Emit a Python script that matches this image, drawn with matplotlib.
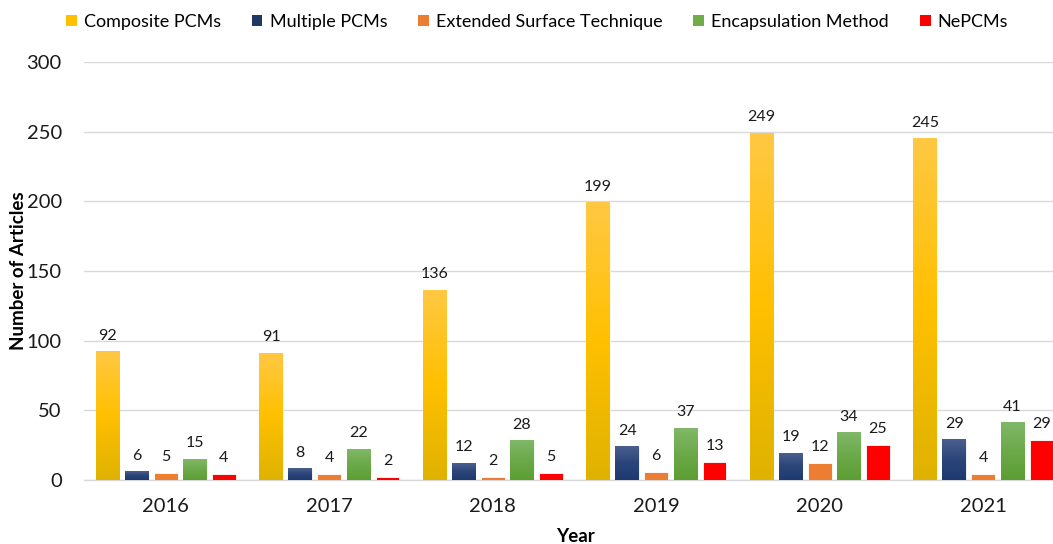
import numpy as np
import matplotlib.pyplot as plt
from matplotlib.colors import LinearSegmentedColormap
from matplotlib.patches import Patch

# Data
years = ['2016', '2017', '2018', '2019', '2020', '2021']
series_names = ['Composite PCMs', 'Multiple PCMs', 'Extended Surface Technique',
                'Encapsulation Method', 'NePCMs']
composite = [92, 91, 136, 199, 249, 245]
multiple = [6, 8, 12, 24, 19, 29]
extended = [5, 4, 2, 6, 12, 4]
encapsulation = [15, 22, 28, 37, 34, 41]
nepcms = [4, 2, 5, 13, 25, 29]
all_series = [composite, multiple, extended, encapsulation, nepcms]

# colours: (top, middle, bottom) for gradient bars, None for flat
legend_colors = ['#FFC000', '#203864', '#ED7D31', '#70AD47', '#FF0000']
gradients = [
    ['#FFC843', '#FFC000', '#DFB200'],
    ['#4A5F8E', '#2B4579', '#1D3A70'],
    None,
    ['#80B868', '#6CA94A', '#5C9E33'],
    None,
]

plt.rcParams['font.family'] = ['Lato', 'DejaVu Sans']

fig = plt.figure(figsize=(10.53, 5.44), dpi=100)
W, H = 1053, 544
left, right, bottom, top = 84, 1065, 480, 62
ax = fig.add_axes([left / W, 1 - bottom / H, (right - left) / W, (bottom - top) / H])

x = np.arange(len(years))
bar_w = 0.144
step = 0.178

for i, (vals, col, grad) in enumerate(zip(all_series, legend_colors, gradients)):
    pos = x + (i - 2) * step
    bars = ax.bar(pos, vals, width=bar_w, color=col, edgecolor='white',
                  linewidth=0.6, zorder=3)
    if grad is not None:
        cmap = LinearSegmentedColormap.from_list('g%d' % i, grad[::-1])
        grad_img = np.linspace(0, 1, 256).reshape(-1, 1)
        for b in bars:
            bx, by = b.get_x(), b.get_y()
            bw, bh = b.get_width(), b.get_height()
            ax.imshow(grad_img, cmap=cmap, aspect='auto', origin='lower',
                      extent=(bx, bx + bw, by, by + bh), zorder=3.5)
    for p, v in zip(pos, vals):
        ax.text(p, v + 6.5, str(v), ha='center', va='bottom', fontsize=11.5,
                color='#1a1a1a', zorder=5)

ax.set_xlim(-0.5, len(years) - 0.5)
ax.set_ylim(0, 300)
ax.set_yticks(range(0, 301, 50))
ax.set_xticks(x)
ax.set_xticklabels(years)
ax.tick_params(axis='both', length=0, labelsize=14.5, colors='#1a1a1a')
ax.tick_params(axis='x', pad=13)
ax.tick_params(axis='y', pad=16)
ax.yaxis.grid(True, color='#D9D9D9', linewidth=1, zorder=0)
ax.set_axisbelow(True)
for s in ['top', 'right', 'left']:
    ax.spines[s].set_visible(False)
ax.spines['bottom'].set_color('#D9D9D9')
ax.spines['bottom'].set_linewidth(1)

fig.text(18 / W, 1 - 271 / H, 'Number of Articles', rotation=90, ha='center',
         va='center', fontsize=13.5, fontweight='bold')
fig.text(575 / W, 1 - 536 / H, 'Year', ha='center', va='center',
         fontsize=13.5, fontweight='bold')

handles = [Patch(facecolor=c, edgecolor='none') for c in legend_colors]
fig.legend(handles, series_names, loc='center', bbox_to_anchor=(537 / W, 1 - 22 / H),
           ncol=5, frameon=False, fontsize=13, handlelength=0.6, handleheight=0.6,
           handletextpad=0.4, columnspacing=1.7)

fig.savefig('out.png', dpi=100)
